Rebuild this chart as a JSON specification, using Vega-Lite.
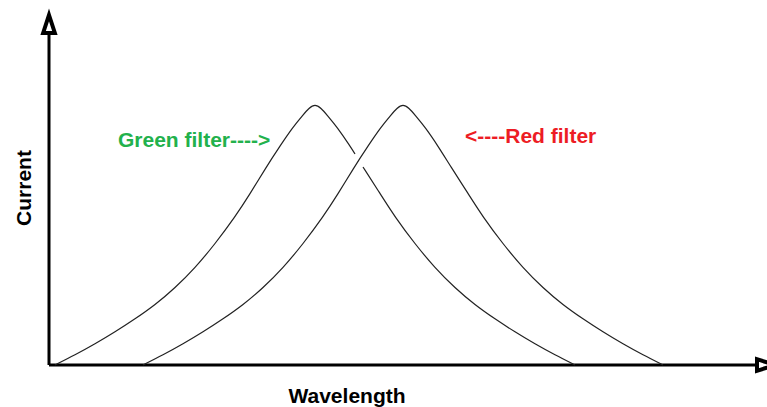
{
  "$schema": "https://vega.github.io/schema/vega-lite/v6.json",
  "width": 767,
  "height": 407,
  "autosize": {"type": "none"},
  "padding": 0,
  "background": "white",
  "config": {"view": {"stroke": null}},
  "datasets": {
    "curves": [
      {"seg": "g1", "w": 6, "c": 0},
      {"seg": "g1", "w": 26, "c": 10},
      {"seg": "g1", "w": 46, "c": 21},
      {"seg": "g1", "w": 66, "c": 33},
      {"seg": "g1", "w": 86, "c": 46},
      {"seg": "g1", "w": 106, "c": 60},
      {"seg": "g1", "w": 126, "c": 77},
      {"seg": "g1", "w": 146, "c": 97},
      {"seg": "g1", "w": 166, "c": 121},
      {"seg": "g1", "w": 186, "c": 148},
      {"seg": "g1", "w": 201, "c": 171},
      {"seg": "g1", "w": 216, "c": 196},
      {"seg": "g1", "w": 231, "c": 219},
      {"seg": "g1", "w": 244, "c": 238},
      {"seg": "g1", "w": 254, "c": 250},
      {"seg": "g1", "w": 260, "c": 257},
      {"seg": "g1", "w": 266, "c": 261},
      {"seg": "g1", "w": 272, "c": 257},
      {"seg": "g1", "w": 278, "c": 250},
      {"seg": "g1", "w": 288, "c": 238},
      {"seg": "g1", "w": 301, "c": 219},
      {"seg": "g1", "w": 306, "c": 211},
      {"seg": "g2", "w": 314, "c": 198},
      {"seg": "g2", "w": 331, "c": 171.6},
      {"seg": "g2", "w": 346, "c": 148},
      {"seg": "g2", "w": 366, "c": 121},
      {"seg": "g2", "w": 386, "c": 97},
      {"seg": "g2", "w": 406, "c": 77},
      {"seg": "g2", "w": 426, "c": 60},
      {"seg": "g2", "w": 446, "c": 46},
      {"seg": "g2", "w": 466, "c": 33},
      {"seg": "g2", "w": 486, "c": 21},
      {"seg": "g2", "w": 506, "c": 10},
      {"seg": "g2", "w": 526, "c": 0},
      {"seg": "r1", "w": 94, "c": 0},
      {"seg": "r1", "w": 114, "c": 10},
      {"seg": "r1", "w": 134, "c": 21},
      {"seg": "r1", "w": 154, "c": 33},
      {"seg": "r1", "w": 174, "c": 46},
      {"seg": "r1", "w": 194, "c": 60},
      {"seg": "r1", "w": 214, "c": 77},
      {"seg": "r1", "w": 234, "c": 97},
      {"seg": "r1", "w": 254, "c": 121},
      {"seg": "r1", "w": 274, "c": 148},
      {"seg": "r1", "w": 289, "c": 171},
      {"seg": "r1", "w": 304, "c": 196},
      {"seg": "r1", "w": 319, "c": 219},
      {"seg": "r1", "w": 332, "c": 238},
      {"seg": "r1", "w": 342, "c": 250},
      {"seg": "r1", "w": 348, "c": 257},
      {"seg": "r1", "w": 354, "c": 261},
      {"seg": "r1", "w": 360, "c": 257},
      {"seg": "r1", "w": 366, "c": 250},
      {"seg": "r1", "w": 376, "c": 238},
      {"seg": "r1", "w": 389, "c": 219},
      {"seg": "r1", "w": 402, "c": 198},
      {"seg": "r1", "w": 419, "c": 171.6},
      {"seg": "r1", "w": 434, "c": 148},
      {"seg": "r1", "w": 454, "c": 121},
      {"seg": "r1", "w": 474, "c": 97},
      {"seg": "r1", "w": 494, "c": 77},
      {"seg": "r1", "w": 514, "c": 60},
      {"seg": "r1", "w": 534, "c": 46},
      {"seg": "r1", "w": 554, "c": 33},
      {"seg": "r1", "w": 574, "c": 21},
      {"seg": "r1", "w": 594, "c": 10},
      {"seg": "r1", "w": 614, "c": 0}
    ],
    "axes": [
      {"name": "current", "w": 0, "w2": 0, "c": 0, "c2": 335},
      {"name": "wavelength", "w": 0, "w2": 710, "c": 0, "c2": 0}
    ]
  },
  "layer": [
    {
      "data": {"name": "axes"},
      "mark": {"type": "rule", "color": "black", "strokeWidth": 3},
      "encoding": {
        "x": {"field": "w", "type": "quantitative", "scale": {"domain": [-49, 718], "nice": false, "zero": false}, "axis": null},
        "x2": {"field": "w2"},
        "y": {"field": "c", "type": "quantitative", "scale": {"domain": [-42, 365], "nice": false, "zero": false}, "axis": null},
        "y2": {"field": "c2"}
      }
    },
    {
      "data": {"values": [{"w": 0, "c": 341}]},
      "mark": {"type": "point", "shape": "M0,-1L0.65,1L-0.65,1Z", "size": 324, "filled": true, "fill": "white", "stroke": "black", "strokeWidth": 4, "opacity": 1},
      "encoding": {
        "x": {"field": "w", "type": "quantitative"},
        "y": {"field": "c", "type": "quantitative"}
      }
    },
    {
      "data": {"values": [{"w": 717, "c": 0}]},
      "mark": {"type": "point", "shape": "M1,0L-1,0.65L-1,-0.65Z", "size": 324, "filled": true, "fill": "white", "stroke": "black", "strokeWidth": 4, "opacity": 1},
      "encoding": {
        "x": {"field": "w", "type": "quantitative"},
        "y": {"field": "c", "type": "quantitative"}
      }
    },
    {
      "data": {"name": "curves"},
      "mark": {"type": "line", "interpolate": "basis", "color": "#222222", "strokeWidth": 1.2},
      "encoding": {
        "x": {"field": "w", "type": "quantitative"},
        "y": {"field": "c", "type": "quantitative"},
        "detail": {"field": "seg", "type": "nominal"}
      }
    },
    {
      "data": {"values": [{"label": "Green filter---->", "w": 69, "c": 218}]},
      "mark": {"type": "text", "align": "left", "baseline": "alphabetic", "font": "Liberation Sans", "fontWeight": "bold", "fontSize": 21, "color": "#22b14c"},
      "encoding": {
        "x": {"field": "w", "type": "quantitative"},
        "y": {"field": "c", "type": "quantitative"},
        "text": {"field": "label"}
      }
    },
    {
      "data": {"values": [{"label": "<----Red filter", "w": 416, "c": 222}]},
      "mark": {"type": "text", "align": "left", "baseline": "alphabetic", "font": "Liberation Sans", "fontWeight": "bold", "fontSize": 21, "color": "#ed1c24"},
      "encoding": {
        "x": {"field": "w", "type": "quantitative"},
        "y": {"field": "c", "type": "quantitative"},
        "text": {"field": "label"}
      }
    },
    {
      "data": {"values": [{"label": "Wavelength", "w": 298, "c": -38}]},
      "mark": {"type": "text", "align": "center", "baseline": "alphabetic", "font": "Liberation Sans", "fontWeight": "bold", "fontSize": 21, "color": "black"},
      "encoding": {
        "x": {"field": "w", "type": "quantitative"},
        "y": {"field": "c", "type": "quantitative"},
        "text": {"field": "label"}
      }
    },
    {
      "data": {"values": [{"label": "Current", "w": -24, "c": 177}]},
      "mark": {"type": "text", "align": "center", "baseline": "middle", "angle": 270, "font": "Liberation Sans", "fontWeight": "bold", "fontSize": 21, "color": "black"},
      "encoding": {
        "x": {"field": "w", "type": "quantitative"},
        "y": {"field": "c", "type": "quantitative"},
        "text": {"field": "label"}
      }
    }
  ]
}
